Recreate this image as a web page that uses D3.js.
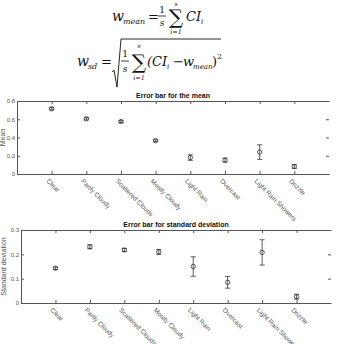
<!DOCTYPE html>
<html>
<head>
<meta charset="utf-8">
<script src="https://cdn.jsdelivr.net/npm/d3@7"></script>
<style>
  body { margin: 0; background: #fff; }
  svg { display: block; }
</style>
</head>
<body>
<div id="chart"></div>
<script>
const categories = ['Clear', 'Partly Cloudy', 'Scattered Clouds', 'Mostly Cloudy', 'Light Rain', 'Overcast', 'Light Rain Showers', 'Drizzle']
const meanValues = [0.715, 0.605, 0.575, 0.365, 0.18, 0.152, 0.24, 0.082]
const meanErrors = [0.012, 0.012, 0.01, 0.01, 0.03, 0.022, 0.08, 0.02]
const sdValues = [0.143, 0.231, 0.218, 0.21, 0.15, 0.085, 0.208, 0.026]
const sdErrors = [0.005, 0.008, 0.006, 0.01, 0.04, 0.024, 0.052, 0.01]
const meanTicks = [0, 0.2, 0.4, 0.6, 0.8]
const sdTicks = [0, 0.1, 0.2, 0.3]

const width = 338
const height = 344
const axisColor = '#555'

const svg = d3.select('#chart')
  .append('svg')
  .attr('width', width)
  .attr('height', height)
  .style('background-color', '#FFF')

// formulas at the top
const f = svg.append('g')
  .attr('font-family', 'DejaVu Serif, serif')
  .attr('fill', '#111')

function t (x, y, str, size, italic, anchor) {
  f.append('text')
    .attr('x', x)
    .attr('y', y)
    .attr('font-size', size)
    .attr('font-style', italic ? 'italic' : 'normal')
    .attr('text-anchor', anchor || 'start')
    .text(str)
}

// w_mean = 1/s sum CI_i
t(112, 21, 'w', 14, true)
t(123, 24, 'mean', 8, true)
t(148, 21, '=', 13, false)
t(162, 13, '1', 9, false, 'middle')
f.append('line').attr('x1', 158).attr('x2', 166).attr('y1', 16).attr('y2', 16).attr('stroke', '#111').attr('stroke-width', 0.8)
t(162, 26, 's', 9, true, 'middle')
t(176, 24, '\u2211', 20, false, 'middle')
t(176, 6, 's', 6, true, 'middle')
t(176, 34, 'i=1', 6.5, true, 'middle')
t(186, 21, 'CI', 13, true)
t(201, 24, 'i', 7, true)

// w_sd = sqrt(1/s sum (CI_i - w_mean)^2)
t(77, 66, 'w', 14, true)
t(88, 69, 'sd', 8, true)
t(101, 66, '=', 13, false)
f.append('path')
  .attr('d', 'M112,72 L114,70 L117,87 L121,39 L221,39')
  .attr('fill', 'none')
  .attr('stroke', '#111')
  .attr('stroke-width', 0.9)
t(125, 57, '1', 9, false, 'middle')
f.append('line').attr('x1', 121).attr('x2', 129).attr('y1', 61).attr('y2', 61).attr('stroke', '#111').attr('stroke-width', 0.8)
t(125, 72, 's', 9, true, 'middle')
t(139, 69, '\u2211', 20, false, 'middle')
t(139, 48, 's', 6, true, 'middle')
t(139, 80, 'i=1', 6.5, true, 'middle')
t(147, 66, '(CI', 13, true)
t(167, 69, 'i', 7, true)
t(173, 66, '\u2212', 13, false)
t(183, 66, 'w', 13, true)
t(193, 69, 'mean', 7, true)
t(212, 66, ')', 13, false)
t(217, 59, '2', 8, false)

function panel ({ left, top, bottom, right, values, errors, ticks, maxY, title, ylabel, labelX }) {
  const g = svg.append('g')

  const x = d3.scaleLinear()
    .domain([0, categories.length + 1])
    .range([left, right])

  const y = d3.scaleLinear()
    .domain([0, maxY])
    .range([bottom, top])

  // bottom axis with inward ticks
  g.append('g')
    .attr('transform', `translate(0, ${bottom})`)
    .call(d3.axisBottom(x).tickValues(d3.range(1, categories.length + 1)).tickSizeInner(-3).tickSizeOuter(0).tickFormat(''))
    .call(a => a.select('.domain').attr('stroke', axisColor))
    .call(a => a.selectAll('.tick line').attr('stroke', axisColor))

  // top line with inward ticks
  g.append('g')
    .attr('transform', `translate(0, ${top})`)
    .call(d3.axisTop(x).tickValues(d3.range(1, categories.length + 1)).tickSizeInner(-3).tickSizeOuter(0).tickFormat(''))
    .call(a => a.select('.domain').attr('stroke', axisColor))
    .call(a => a.selectAll('.tick line').attr('stroke', axisColor))

  // left axis
  g.append('g')
    .attr('transform', `translate(${left}, 0)`)
    .call(d3.axisLeft(y).tickValues(ticks).tickSizeInner(-3).tickSizeOuter(0).tickPadding(2).tickFormat(d => d))
    .call(a => a.select('.domain').attr('stroke', axisColor))
    .call(a => a.selectAll('.tick line').attr('stroke', axisColor))
    .call(a => a.selectAll('.tick text').attr('fill', axisColor).attr('font-size', 6).attr('font-family', 'Liberation Sans, Arial, sans-serif'))

  // right ticks only
  g.append('g')
    .attr('transform', `translate(${right}, 0)`)
    .call(d3.axisRight(y).tickValues(ticks.filter(v => v > 0 && v < maxY)).tickSizeInner(-3).tickSizeOuter(0).tickFormat(''))
    .call(a => a.select('.domain').remove())
    .call(a => a.selectAll('.tick line').attr('stroke', axisColor))

  // rotated category labels
  g.selectAll('.cat')
    .data(categories)
    .join('text')
    .attr('class', 'cat')
    .attr('transform', (d, i) => `translate(${x(i + 1) - 4}, ${bottom + 6}) rotate(45)`)
    .attr('font-size', 6.5)
    .attr('font-family', 'Liberation Sans, Arial, sans-serif')
    .attr('fill', axisColor)
    .attr('dy', '0.35em')
    .text(d => d)

  g.append('text')
    .attr('x', (left + right) / 2)
    .attr('y', top - 3)
    .attr('text-anchor', 'middle')
    .attr('font-size', 7)
    .attr('font-weight', 'bold')
    .attr('font-family', 'Liberation Sans, Arial, sans-serif')
    .attr('fill', '#111')
    .text(title)

  g.append('text')
    .attr('transform', `translate(${labelX}, ${(top + bottom) / 2}) rotate(-90)`)
    .attr('text-anchor', 'middle')
    .attr('font-size', 7)
    .attr('font-family', 'Liberation Sans, Arial, sans-serif')
    .attr('fill', axisColor)
    .text(ylabel)

  const pts = g.selectAll('.pt')
    .data(values)
    .join('g')
    .attr('class', 'pt')

  pts.append('line')
    .attr('x1', (d, i) => x(i + 1))
    .attr('x2', (d, i) => x(i + 1))
    .attr('y1', (d, i) => y(d - errors[i]))
    .attr('y2', (d, i) => y(d + errors[i]))
    .attr('stroke', '#333')
    .attr('stroke-width', 0.8)

  pts.selectAll('.cap')
    .data((d, i) => [[i, d - errors[i]], [i, d + errors[i]]])
    .join('line')
    .attr('x1', d => x(d[0] + 1) - 2.5)
    .attr('x2', d => x(d[0] + 1) + 2.5)
    .attr('y1', d => y(d[1]))
    .attr('y2', d => y(d[1]))
    .attr('stroke', '#333')
    .attr('stroke-width', 0.8)

  pts.append('circle')
    .attr('cx', (d, i) => x(i + 1))
    .attr('cy', d => y(d))
    .attr('r', 2.2)
    .attr('fill', 'none')
    .attr('stroke', '#333')
    .attr('stroke-width', 0.8)
}

panel({ left: 17, right: 329, top: 101, bottom: 174, values: meanValues, errors: meanErrors, ticks: meanTicks, maxY: 0.8, title: 'Error bar for the mean', ylabel: 'Mean', labelX: 5 })
panel({ left: 21, right: 331, top: 230, bottom: 303, values: sdValues, errors: sdErrors, ticks: sdTicks, maxY: 0.3, title: 'Error bar for standard deviation', ylabel: 'Standard deviation', labelX: 6 })
</script>
</body>
</html>
